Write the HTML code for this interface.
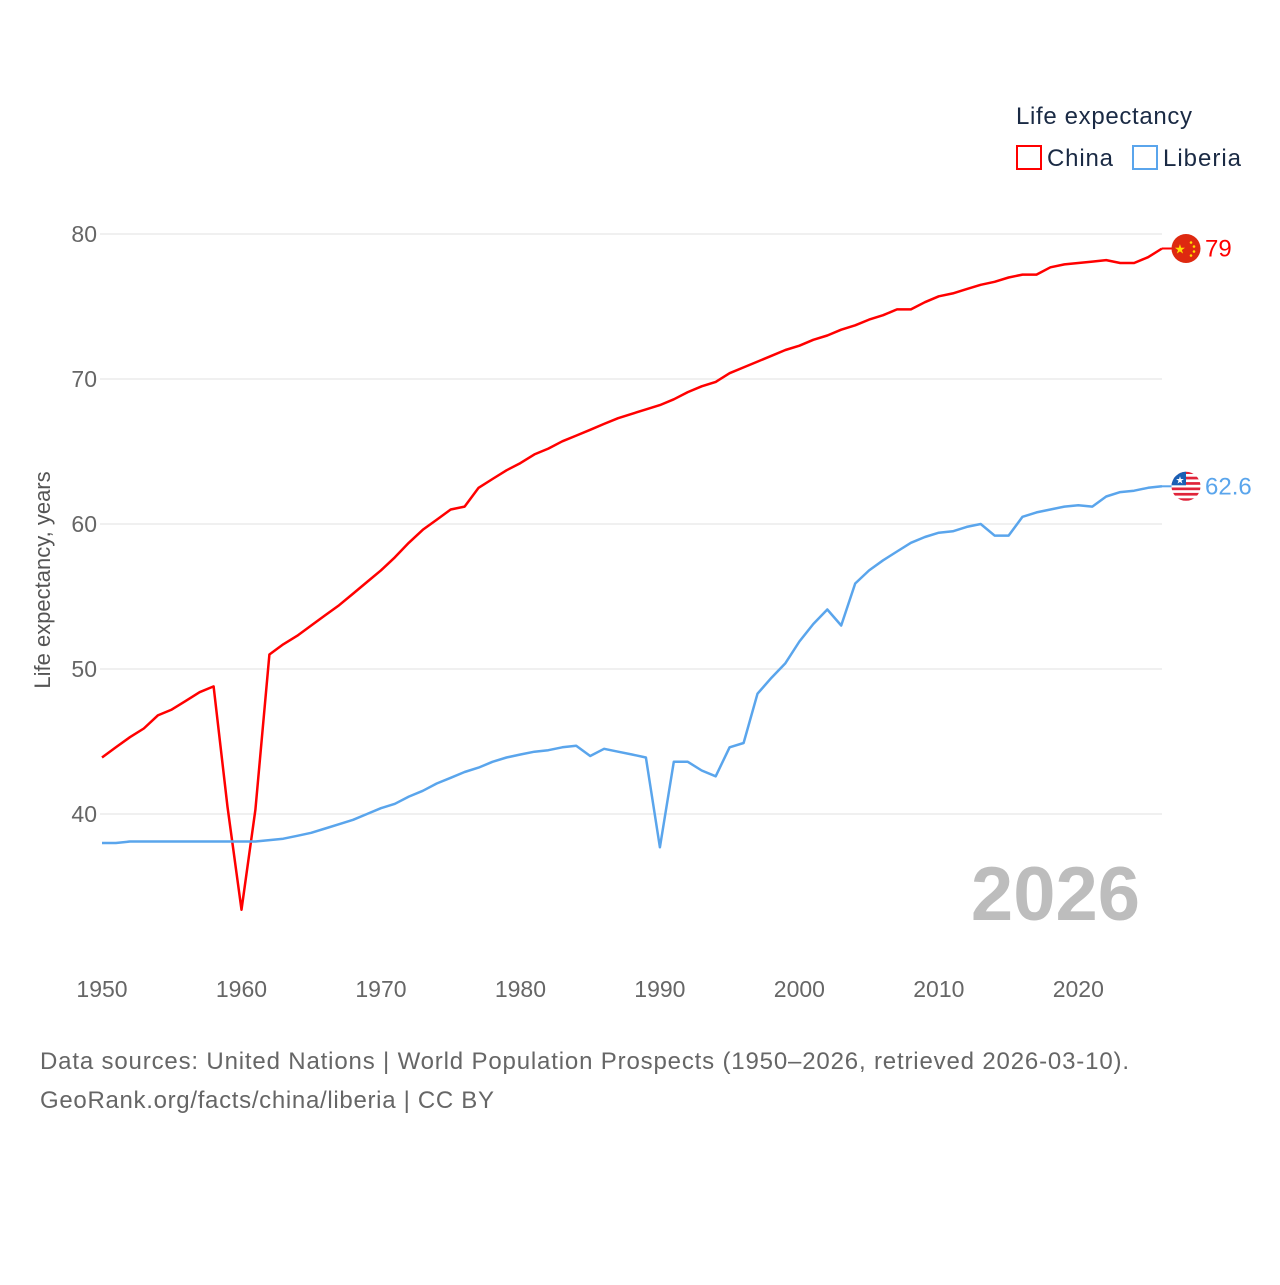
<!DOCTYPE html>
<html><head><meta charset="utf-8"><style>
body{margin:0;background:#fff;font-family:"Liberation Sans",sans-serif;}
svg text{font-family:"Liberation Sans",sans-serif;}
</style></head><body>
<svg id="chart" width="1280" height="1280">
<g id="grid"></g>
<g id="yticks"></g>
<g id="xticks"></g>
<text x="50" y="580" transform="rotate(-90 50 580)" text-anchor="middle" font-size="22" fill="#555">Life expectancy, years</text>
<text x="1140" y="920" text-anchor="end" font-size="76" font-weight="bold" fill="#bdbdbd">2026</text>
<g id="series"></g>
<g>
<text x="1016" y="124" font-size="24" fill="#1a2a44" textLength="176">Life expectancy</text>
<g><rect x="1017" y="146" width="24" height="23" fill="none" stroke="#ff0000" stroke-width="2"/><text x="1047" y="166" font-size="24" fill="#1a2a44" textLength="66">China</text></g>
<g><rect x="1133" y="146" width="24" height="23" fill="none" stroke="#5aa5ec" stroke-width="2"/><text x="1163" y="166" font-size="24" fill="#1a2a44" textLength="78">Liberia</text></g>
</g>
<text x="40" y="1069" font-size="24" fill="#666" textLength="1089">Data sources: United Nations | World Population Prospects (1950–2026, retrieved 2026-03-10).</text>
<text x="40" y="1108" font-size="24" fill="#666" textLength="454">GeoRank.org/facts/china/liberia | CC BY</text>
</svg>
<script>
const years=[];for(let y=1950;y<=2026;y++)years.push(y);
const china=[43.9,44.6,45.3,45.9,46.8,47.2,47.8,48.4,48.8,40.5,33.4,40.3,51.0,51.7,52.3,53.0,53.7,54.4,55.2,56.0,56.8,57.7,58.7,59.6,60.3,61.0,61.2,62.5,63.1,63.7,64.2,64.8,65.2,65.7,66.1,66.5,66.9,67.3,67.6,67.9,68.2,68.6,69.1,69.5,69.8,70.4,70.8,71.2,71.6,72.0,72.3,72.7,73.0,73.4,73.7,74.1,74.4,74.8,74.8,75.3,75.7,75.9,76.2,76.5,76.7,77.0,77.2,77.2,77.7,77.9,78.0,78.1,78.2,78.0,78.0,78.4,79.0];
const liberia=[38.0,38.0,38.1,38.1,38.1,38.1,38.1,38.1,38.1,38.1,38.1,38.1,38.2,38.3,38.5,38.7,39.0,39.3,39.6,40.0,40.4,40.7,41.2,41.6,42.1,42.5,42.9,43.2,43.6,43.9,44.1,44.3,44.4,44.6,44.7,44.0,44.5,44.3,44.1,43.9,37.7,43.6,43.6,43.0,42.6,44.6,44.9,48.3,49.4,50.4,51.9,53.1,54.1,53.0,55.9,56.8,57.5,58.1,58.7,59.1,59.4,59.5,59.8,60.0,59.2,59.2,60.5,60.8,61.0,61.2,61.3,61.2,61.9,62.2,62.3,62.5,62.6];
const yTicks=[40,50,60,70,80];
const xTicks=[1950,1960,1970,1980,1990,2000,2010,2020];
const NS="http://www.w3.org/2000/svg";
const x=v=>102+(v-1950)*(1060/76);
const y=v=>814-(v-40)*14.5;
function mk(tag,attrs,parent,txt){const e=document.createElementNS(NS,tag);for(const k in attrs)e.setAttribute(k,attrs[k]);if(txt!==undefined)e.textContent=txt;parent.appendChild(e);return e;}
const grid=document.getElementById('grid'),yt=document.getElementById('yticks'),xt=document.getElementById('xticks'),ser=document.getElementById('series');
yTicks.forEach(t=>{
 const l=mk('line',{x1:100,x2:1162,y1:y(t),y2:y(t),stroke:'#e6e6e6','stroke-width':1.2},grid);
 
 
 const tx=mk('text',{x:97,y:y(t)+8,'text-anchor':'end','font-size':23,fill:'#666'},yt,String(t));
 
 
});
xTicks.forEach(t=>{
 const tx=mk('text',{x:x(t),y:997,'text-anchor':'middle','font-size':23,fill:'#666'},xt,String(t));
 
 
});
function line(data,color,name){
 const d=data.map((v,i)=>(i?'L':'M')+x(years[i]).toFixed(1)+' '+y(v).toFixed(1)).join(' ');
 const p=mk('path',{d:d,fill:'none',stroke:color,'stroke-width':2.5,'stroke-linejoin':'round'},ser);
 
 
}
line(china,'#ff0000','china');
line(liberia,'#5aa5ec','liberia');
const lc=china[china.length-1], ll=liberia[liberia.length-1];
const g1=mk('g',{},ser);


mk('line',{x1:1162,x2:1172,y1:y(lc),y2:y(lc),stroke:'#ff0000','stroke-width':2},g1);
mk('circle',{cx:1186,cy:y(lc),r:14.5,fill:'#de2910'},g1);
mk('text',{x:1180,y:y(lc)+5,'text-anchor':'middle','font-size':13,fill:'#ffde00'},g1,'★');
mk('circle',{cx:1191,cy:y(lc)-6,r:1.3,fill:'#ffde00'},g1);
mk('circle',{cx:1194,cy:y(lc)-2,r:1.3,fill:'#ffde00'},g1);
mk('circle',{cx:1194,cy:y(lc)+3,r:1.3,fill:'#ffde00'},g1);
mk('circle',{cx:1191,cy:y(lc)+7,r:1.3,fill:'#ffde00'},g1);
const t1=mk('text',{x:1205,y:y(lc)+8,'font-size':24,fill:'#ff0000'},ser,String(lc));


const g2=mk('g',{},ser);


const cy=y(ll);
mk('line',{x1:1162,x2:1172,y1:cy,y2:cy,stroke:'#5aa5ec','stroke-width':2},g2);
const cp=mk('clipPath',{id:'lbc'},g2);mk('circle',{cx:1186,cy:cy,r:14.5},cp);
const fg=mk('g',{'clip-path':'url(#lbc)'},g2);
mk('rect',{x:1171,y:cy-15,width:30,height:30,fill:'#fff'},fg);
for(let i=0;i<6;i++)mk('rect',{x:1171,y:cy-15+i*5.4,width:30,height:2.7,fill:'#e0243a'},fg);
mk('rect',{x:1171,y:cy-15,width:15,height:14,fill:'#1a5fb4'},fg);
mk('text',{x:1180,y:cy-3,'text-anchor':'middle','font-size':10,fill:'#fff'},fg,'★');
const t2=mk('text',{x:1205,y:cy+8,'font-size':24,fill:'#5aa5ec'},ser,String(ll));


</script>
</body></html>
